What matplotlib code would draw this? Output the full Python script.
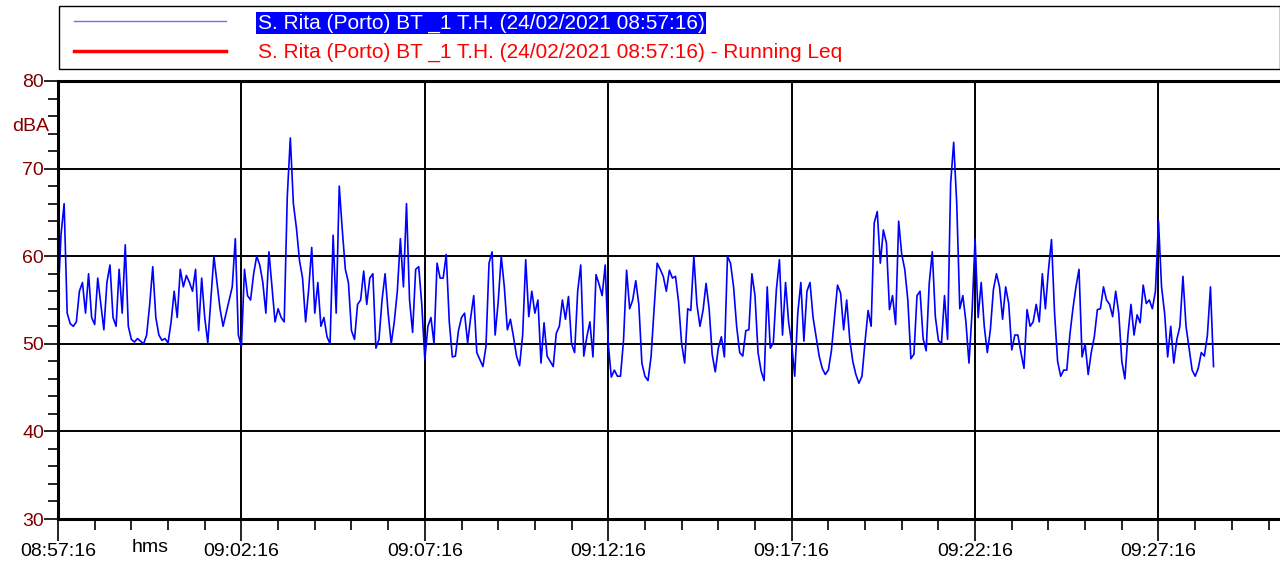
import numpy as np
import matplotlib
matplotlib.use("Agg")
import matplotlib.pyplot as plt
from matplotlib.lines import Line2D
from matplotlib.patches import Rectangle
from matplotlib.ticker import MultipleLocator

plt.rcParams['font.family'] = ['Liberation Sans', 'DejaVu Sans']

# sound level samples, one every 5 s from 08:57:16 (dBA)
step_s = 5
level_a = [55.0, 62.5, 66.0, 53.5, 52.3, 52.0, 52.5, 56.0, 57.0, 53.5,
           58.0, 53.0, 52.2, 57.5, 54.5, 51.6, 57.0, 59.0, 53.0, 52.0,
           58.5, 53.5, 61.3, 52.0, 50.5, 50.2, 50.6, 50.3, 50.0, 51.0,
           54.5, 58.8, 53.0, 51.0, 50.4, 50.6, 50.1, 52.5, 56.0, 53.0,
           58.5, 56.5, 57.8, 57.0, 56.0, 58.5, 51.5, 57.5, 53.0, 50.1,
           55.0, 60.0, 57.0, 54.0, 52.0]
level_b = [53.5, 55.0, 56.5, 62.0, 51.0, 49.7, 58.5, 55.5, 55.0, 58.0,
           60.0, 59.0, 57.0, 53.5, 60.5, 56.5, 52.5, 54.0, 53.0, 52.5,
           66.8, 73.5, 66.0, 63.2, 59.5, 57.5, 52.5, 56.2, 61.0, 53.5,
           57.0, 52.0, 53.0, 50.8, 50.0, 62.4, 53.5, 68.0, 63.0, 58.5,
           57.0, 51.5, 50.5, 54.5, 55.0, 58.3, 54.5, 57.5, 58.0, 49.5,
           50.5, 55.0, 58.0, 53.5]
level_c = [50.0, 52.5, 56.0, 62.0, 56.5, 66.0, 55.0, 51.3, 58.5, 58.8,
           54.5, 48.2, 52.0, 53.0, 50.0, 59.2, 57.5, 57.5, 60.2, 52.5,
           48.5, 48.6, 51.5, 53.0, 53.5, 50.1, 53.0, 55.5, 49.0, 48.2,
           47.4, 49.7, 59.2, 60.5, 51.0, 54.8, 60.0, 56.5, 51.6, 52.8,
           50.8, 48.6, 47.5, 51.0, 59.6, 53.1, 56.0, 53.5, 55.0, 47.8,
           52.4, 48.6, 48.0, 47.4]
level_d = [51.2, 52.0, 55.0, 52.8, 55.4, 50.0, 49.0, 56.0, 59.0, 48.6,
           50.8, 52.5, 48.5, 57.9, 56.8, 55.5, 59.0, 50.0, 46.2, 47.0,
           46.3, 46.3, 50.4, 58.4, 54.0, 55.0, 57.2, 54.5, 47.8, 46.3,
           45.8, 48.5, 54.0, 59.2, 58.5, 57.7, 56.0, 58.4, 57.5, 57.7,
           54.8, 50.0, 47.8, 54.0, 53.8, 60.0, 54.5, 52.0, 53.8, 56.9,
           54.0, 48.8, 46.8, 49.5]
level_e = [50.8, 48.5, 60.0, 59.2, 56.5, 52.0, 49.0, 48.6, 51.5, 51.6,
           58.0, 55.5, 49.0, 46.9, 45.8, 56.5, 49.5, 50.1, 56.2, 59.6,
           51.0, 57.0, 52.5, 50.0, 46.3, 53.5, 57.0, 50.3, 56.0, 57.0,
           53.0, 50.8, 48.6, 47.2, 46.5, 47.0, 49.2, 53.0, 56.7, 55.8,
           51.6, 55.0, 50.5, 48.0, 46.5, 45.5, 46.3, 50.2, 53.8, 52.0,
           63.8, 65.1, 59.2, 63.0]
level_f = [61.5, 53.9, 55.5, 52.2, 64.0, 60.2, 58.5, 55.0, 48.3, 48.8,
           55.5, 56.0, 50.6, 49.2, 56.9, 60.5, 53.1, 50.4, 50.0, 55.5,
           50.5, 68.3, 73.0, 66.0, 54.0, 55.5, 52.5, 47.8, 53.5, 62.0,
           53.0, 57.0, 52.0, 49.0, 51.6, 56.2, 58.0, 56.5, 52.8, 56.5,
           54.6, 49.3, 51.0, 51.0, 49.0, 47.2, 53.9, 52.0, 52.5, 54.5,
           52.5, 58.0, 54.0, 58.4]
level_g = [61.9, 53.5, 48.0, 46.3, 47.0, 47.0, 51.0, 54.0, 56.5, 58.5,
           48.5, 50.0, 46.5, 49.0, 50.8, 53.9, 54.0, 56.5, 55.0, 54.5,
           53.1, 56.0, 53.5, 48.0, 46.0, 51.0, 54.5, 51.0, 53.3, 52.4,
           56.7, 54.6, 55.0, 54.0, 56.0, 64.0, 56.5, 53.5, 48.5, 52.0,
           47.8, 50.5, 52.0, 57.7, 52.0, 49.5, 47.0, 46.3, 47.2, 49.0,
           48.6, 51.0, 56.5, 47.4]

tick_labels = ["08:57:16", "09:02:16", "09:07:16", "09:12:16",
               "09:17:16", "09:22:16", "09:27:16"]
series_name = "S. Rita (Porto) BT _1 T.H. (24/02/2021 08:57:16)"
leq_name = series_name + " - Running Leq"

level = level_a + level_b + level_c + level_d + level_e + level_f + level_g
t = np.arange(len(level)) * step_s

dark_red = "#800000"

fig = plt.figure(figsize=(12.8, 5.62), dpi=100)
ax = fig.add_axes([58 / 1280, 1 - 519 / 562, 1235 / 1280, 438 / 562])

ax.plot(t, level, color="#0000ff", lw=1.2)

ax.set_xlim(0, 2020)
ax.set_ylim(30, 80)

ax.set_xticks(np.arange(len(tick_labels)) * 300)
ax.set_xticklabels(tick_labels)
ax.xaxis.set_minor_locator(MultipleLocator(60))
ax.yaxis.set_major_locator(MultipleLocator(10))
ax.yaxis.set_minor_locator(MultipleLocator(2))

ax.grid(True, which="major", color="black", lw=1.4)
ax.tick_params(axis="x", which="major", length=16, width=1.2, pad=1,
               labelsize=14, colors="black")
ax.tick_params(axis="x", which="minor", length=8, width=1.2)
ax.tick_params(axis="y", which="major", length=10, width=1.2, pad=0,
               labelsize=14, labelcolor=dark_red)
ax.tick_params(axis="y", which="minor", length=7, width=1.2)

for side in ["left", "bottom", "top"]:
    ax.spines[side].set_linewidth(2.2)
ax.spines["right"].set_visible(False)

ax.text(150, -0.065, "hms", transform=ax.get_xaxis_transform(),
        ha="center", va="center", fontsize=14)
ax.text(-0.007, 0.895, "dBA", transform=ax.transAxes, ha="right",
        va="center", fontsize=14, color=dark_red)

# legend box spanning the width above the plot
fig.patches.append(Rectangle((59 / 1280, 1 - 69 / 562), 1221 / 1280, 63 / 562,
                             transform=fig.transFigure, fill=False,
                             edgecolor="black", lw=1.0))
handles = [Line2D([], [], color="#6f6fff", lw=1.0),
           Line2D([], [], color="#ff0000", lw=2.5)]
leg = fig.legend(handles, [series_name, leq_name],
                 loc="upper left",
                 bbox_to_anchor=(66 / 1280, 1 - 5 / 562),
                 fontsize=15, handlelength=7.3,
                 handletextpad=1.5, labelspacing=0.5, borderpad=0.4,
                 borderaxespad=0, frameon=False)
texts = leg.get_texts()
texts[0].set_color("white")
texts[0].set_bbox(dict(facecolor="#0000ff", edgecolor="none", pad=1))
texts[1].set_color("#ff0000")

fig.savefig("out.png", dpi=100)
